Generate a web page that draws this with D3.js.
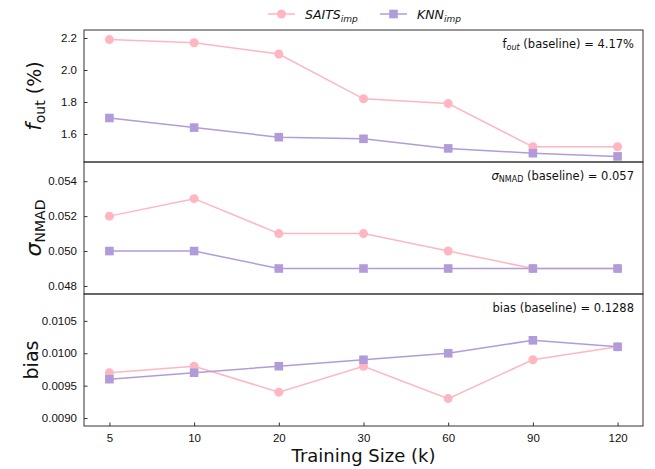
<!DOCTYPE html>
<html>
<head>
<meta charset="utf-8">
<script src="https://cdn.jsdelivr.net/npm/d3@7"></script>
<style>
  body { margin: 0; background: #fff; }
  svg { font-family: "DejaVu Sans", sans-serif; }
</style>
</head>
<body>
<div id="chart"></div>
<script>
// data
const sizes = ["5", "10", "20", "30", "60", "90", "120"];

const foutSaits = [2.19, 2.17, 2.10, 1.82, 1.79, 1.52, 1.52];
const foutKnn   = [1.70, 1.64, 1.58, 1.57, 1.51, 1.48, 1.46];

const sigmaSaits = [0.052, 0.053, 0.051, 0.051, 0.050, 0.049, 0.049];
const sigmaKnn   = [0.050, 0.050, 0.049, 0.049, 0.049, 0.049, 0.049];

const biasSaits = [0.0097, 0.0098, 0.0094, 0.0098, 0.0093, 0.0099, 0.0101];
const biasKnn   = [0.0096, 0.0097, 0.0098, 0.0099, 0.0100, 0.0102, 0.0101];

const foutTicks  = [1.6, 1.8, 2.0, 2.2];
const sigmaTicks = [0.048, 0.050, 0.052, 0.054];
const biasTicks  = [0.0090, 0.0095, 0.0100, 0.0105];

const pink = "#ffb6c1";
const purple = "#b19cd9";

const width = 655, height = 469;
const plotL = 84, plotR = 643, plotT = 30, plotB = 426;
const panelH = (plotB - plotT) / 3;

const svg = d3.select("#chart").append("svg")
    .attr("width", width)
    .attr("height", height);

const x = d3.scaleLinear()
    .domain([-0.3, sizes.length - 1 + 0.3])
    .range([plotL, plotR]);

const panels = [
  { saits: foutSaits, knn: foutKnn, ticks: foutTicks, dom: [1.425, 2.25], fmt: d3.format(".1f"),
    label: "fout", note: "fout" },
  { saits: sigmaSaits, knn: sigmaKnn, ticks: sigmaTicks, dom: [0.04754, 0.0551], fmt: d3.format(".3f"),
    label: "sigma", note: "sigma" },
  { saits: biasSaits, knn: biasKnn, ticks: biasTicks, dom: [0.008877, 0.010915], fmt: d3.format(".4f"),
    label: "bias", note: "bias" }
];

panels.forEach(function(p, k) {
  const y0 = plotT + k * panelH, y1 = y0 + panelH;
  const y = d3.scaleLinear().domain(p.dom).range([y1, y0]);

  const g = svg.append("g");

  // y axis, ticks pointing inward
  g.append("g")
      .attr("transform", "translate(" + plotL + ",0)")
      .call(d3.axisLeft(y).tickValues(p.ticks).tickFormat(p.fmt).tickSizeInner(-3.5).tickSizeOuter(0).tickPadding(7))
      .call(a => a.select(".domain").remove())
      .call(a => a.selectAll(".tick line").attr("stroke", "#333"))
      .call(a => a.selectAll("text").attr("font-size", 11.5).attr("fill", "#111"));

  // lines + markers
  const line = d3.line().x((d, i) => x(i)).y(d => y(d));
  g.append("path").datum(p.saits)
      .attr("d", line).attr("fill", "none").attr("stroke", pink).attr("stroke-width", 1.5);
  g.append("path").datum(p.knn)
      .attr("d", line).attr("fill", "none").attr("stroke", purple).attr("stroke-width", 1.5);

  g.selectAll(".pt").data(p.saits).join("circle")
      .attr("cx", (d, i) => x(i)).attr("cy", d => y(d)).attr("r", 4.5).attr("fill", pink);
  g.selectAll(".sq").data(p.knn).join("rect")
      .attr("x", (d, i) => x(i) - 4.3).attr("y", d => y(d) - 4.3)
      .attr("width", 8.6).attr("height", 8.6).attr("fill", purple);

  // frame
  g.append("rect")
      .attr("x", plotL).attr("y", y0).attr("width", plotR - plotL).attr("height", panelH)
      .attr("fill", "none").attr("stroke", "#333").attr("stroke-width", 1);

  // y label
  const lab = g.append("text")
      .attr("transform", "translate(" + (k == 2 ? 38 : 41) + "," + (y0 + panelH / 2) + ") rotate(-90)")
      .attr("text-anchor", "middle").attr("font-size", 19).attr("fill", "#111");
  if (p.label == "fout") {
    lab.append("tspan").attr("font-style", "italic").attr("font-size", 21).text("f");
    lab.append("tspan").attr("dy", 4).attr("font-size", 14).text("out");
    lab.append("tspan").attr("dy", -4).text(" (%)");
  } else if (p.label == "sigma") {
    lab.append("tspan").attr("font-style", "italic").attr("font-size", 22).text("σ");
    lab.append("tspan").attr("dy", 4).attr("font-size", 14).text("NMAD");
  } else {
    lab.text("bias");
  }

  // annotation top right
  const note = g.append("text")
      .attr("x", plotR - 9).attr("y", y0 + 18)
      .attr("text-anchor", "end").attr("font-size", 11.5).attr("fill", "#111");
  if (p.note == "fout") {
    note.append("tspan").text("f");
    note.append("tspan").attr("dy", 2).attr("font-size", 8).attr("font-style", "italic").text("out");
    note.append("tspan").attr("dy", -2).text(" (baseline) = 4.17%");
  } else if (p.note == "sigma") {
    note.append("tspan").attr("font-style", "italic").text("σ");
    note.append("tspan").attr("dy", 2).attr("font-size", 8).text("NMAD");
    note.append("tspan").attr("dy", -2).text(" (baseline) = 0.057");
  } else {
    note.text("bias (baseline) = 0.1288");
  }

  // x ticks inward on bottom panel
  if (k == 2) {
    g.append("g")
        .attr("transform", "translate(0," + y1 + ")")
        .call(d3.axisBottom(x).tickValues(d3.range(sizes.length)).tickFormat(i => sizes[i])
              .tickSizeInner(-3.5).tickSizeOuter(0).tickPadding(8))
        .call(a => a.select(".domain").remove())
        .call(a => a.selectAll(".tick line").attr("stroke", "#333"))
        .call(a => a.selectAll("text").attr("font-size", 11.5).attr("fill", "#111"));
  }
});

// x label
svg.append("text")
    .attr("x", (plotL + plotR) / 2).attr("y", 462)
    .attr("text-anchor", "middle").attr("font-size", 18).attr("fill", "#111")
    .text("Training Size (k)");

// legend
const legend = svg.append("g").attr("transform", "translate(0,14)");
const items = [
  { name: "SAITS", color: pink, shape: "circle", x0: 268 },
  { name: "KNN", color: purple, shape: "square", x0: 380 }
];
items.forEach(function(it) {
  legend.append("line")
      .attr("x1", it.x0).attr("x2", it.x0 + 27).attr("y1", 0).attr("y2", 0)
      .attr("stroke", it.color).attr("stroke-width", 1.5);
  if (it.shape == "circle") {
    legend.append("circle").attr("cx", it.x0 + 13.5).attr("cy", 0).attr("r", 4.5).attr("fill", it.color);
  } else {
    legend.append("rect").attr("x", it.x0 + 13.5 - 4.3).attr("y", -4.3)
        .attr("width", 8.6).attr("height", 8.6).attr("fill", it.color);
  }
  const t = legend.append("text")
      .attr("x", it.x0 + 37).attr("y", 4.5)
      .attr("font-size", 12.5).attr("font-style", "italic").attr("fill", "#111");
  t.append("tspan").text(it.name);
  t.append("tspan").attr("dy", 3).attr("font-size", 9).text("imp");
});
</script>
</body>
</html>
